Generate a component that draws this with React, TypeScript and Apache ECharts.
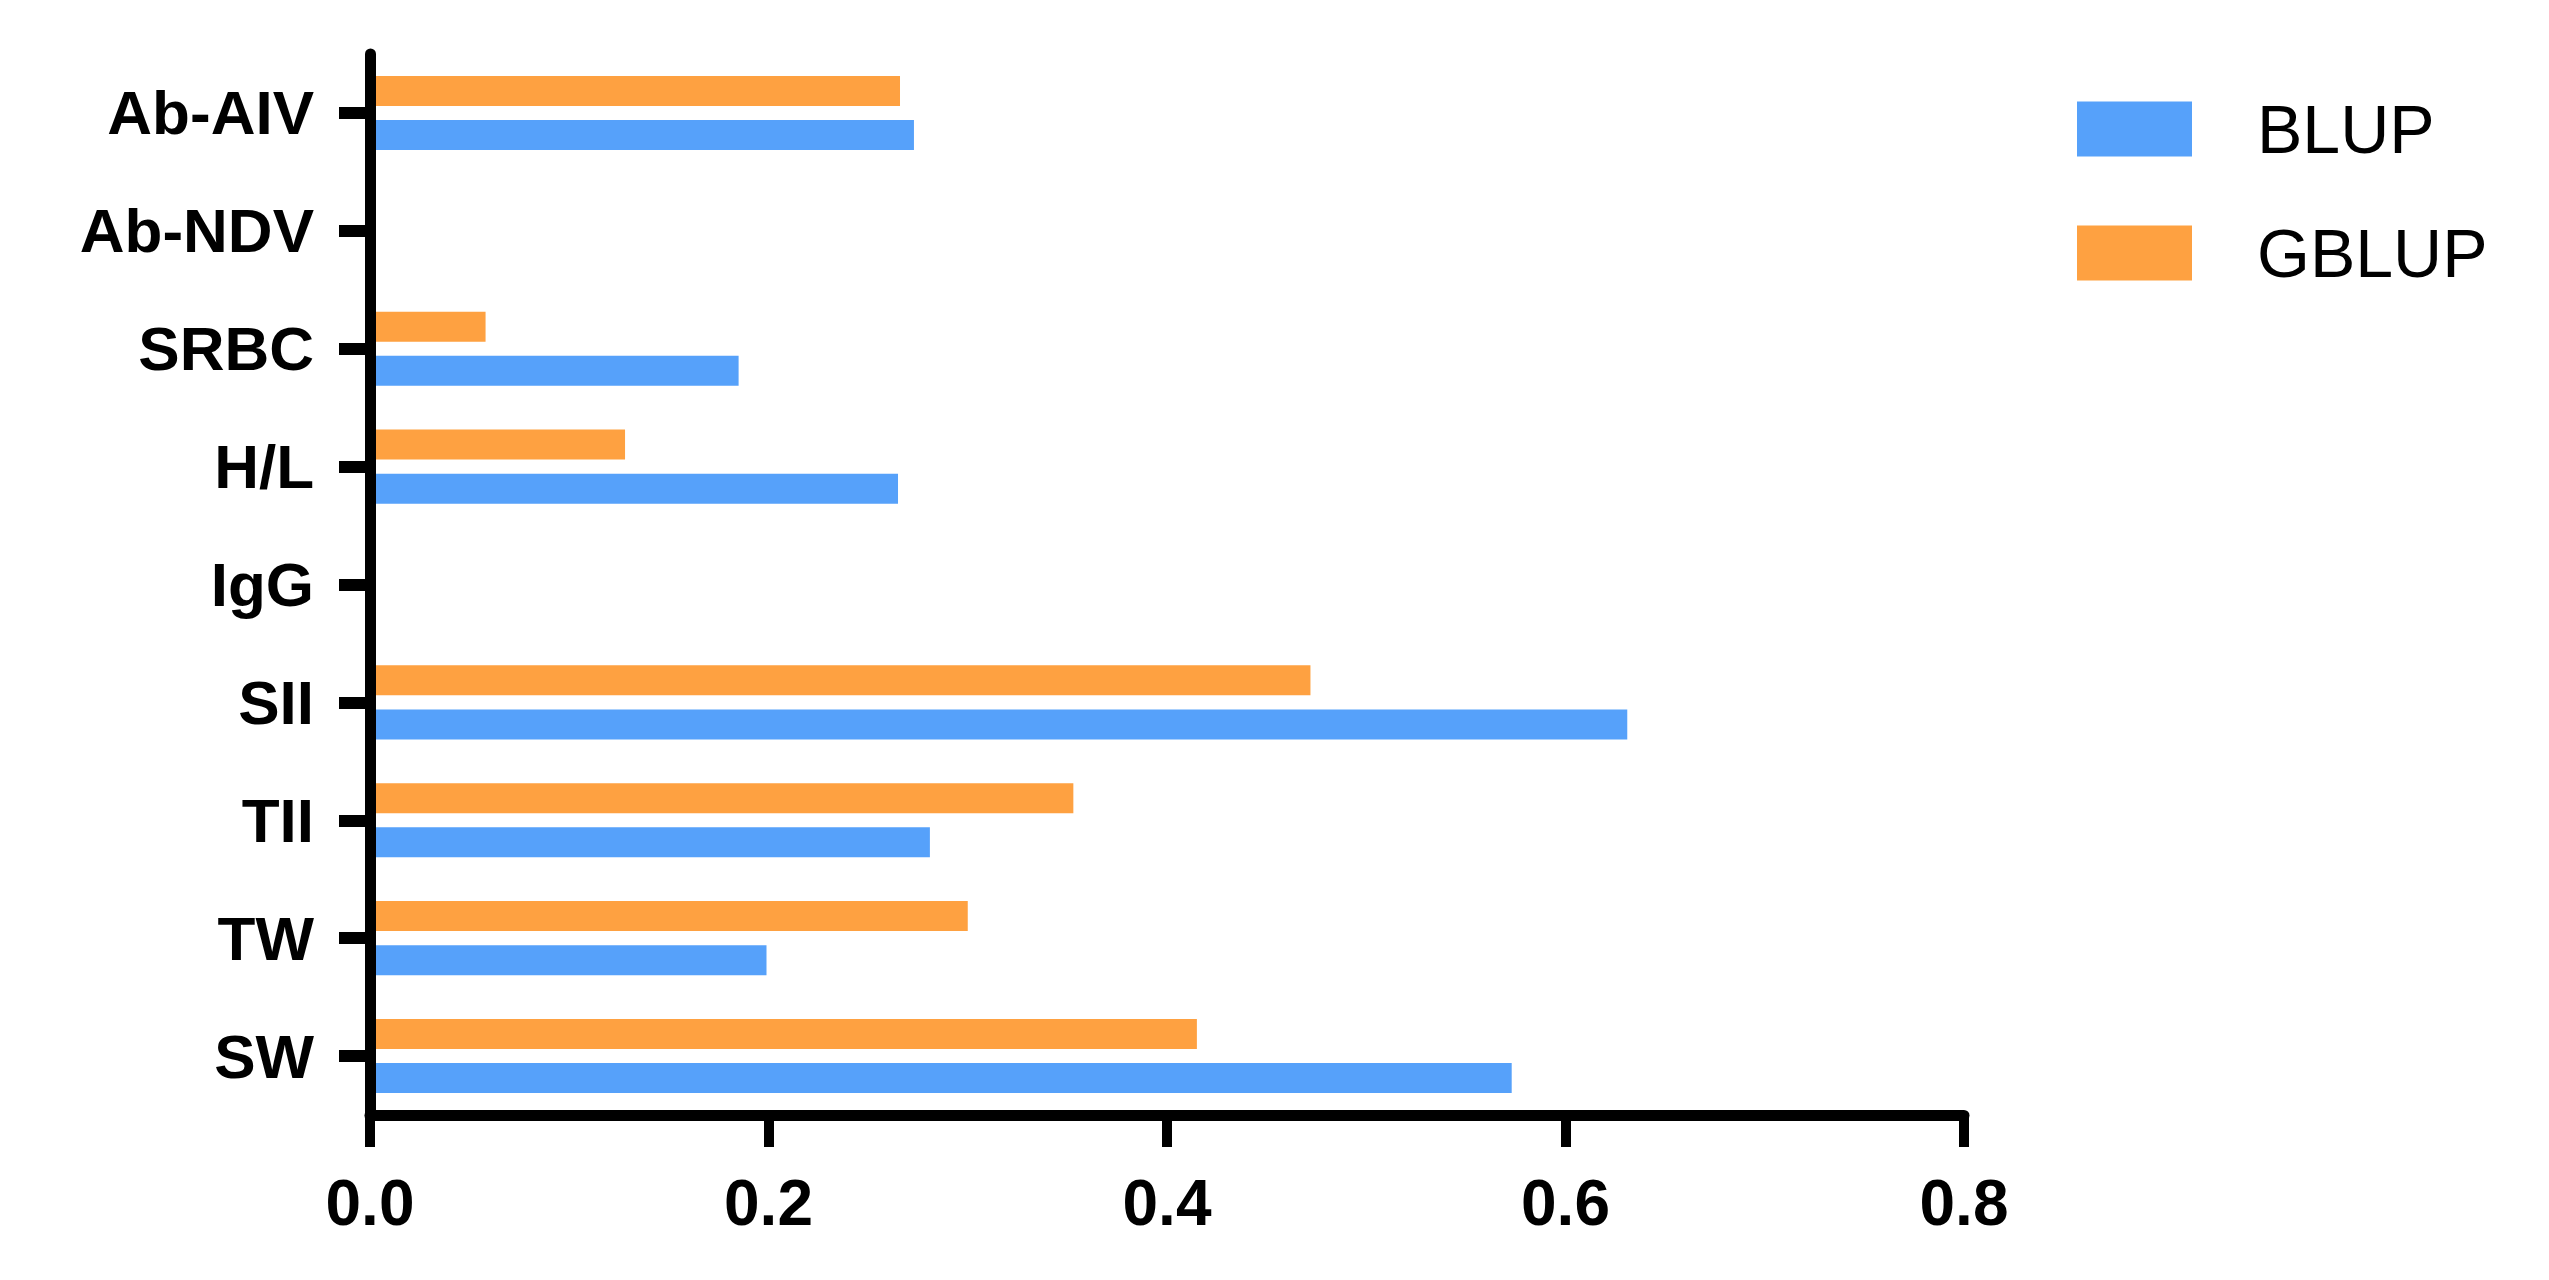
import React, { useEffect, useRef } from "react";
import * as echarts from "echarts";

const categories = ["SW", "TW", "TII", "SII", "IgG", "H/L", "SRBC", "Ab-NDV", "Ab-AIV"];
const blupValues: (number | null)[] = [0.573, 0.199, 0.281, 0.631, null, 0.265, 0.185, null, 0.273];
const gblupValues: (number | null)[] = [0.415, 0.300, 0.353, 0.472, null, 0.128, 0.058, null, 0.266];
const seriesNames = ["BLUP", "GBLUP"];
const xTicks = { min: 0, max: 0.8, interval: 0.2 };

const FONT = "'Liberation Sans', Arial, Helvetica, sans-serif";
const BLUE = "#56A1FA";
const ORANGE = "#FEA141";

export default function App() {
  const ref = useRef<HTMLDivElement>(null);
  useEffect(() => {
    document.body.style.margin = "0";
    if (!ref.current) return;
    const chart = echarts.init(ref.current, null, { renderer: "svg" });
    chart.setOption({
      animation: false,
      backgroundColor: "#ffffff",
      grid: { left: 370, right: 585, top: 54, bottom: 165, containLabel: false },
      legend: {
        orient: "vertical",
        left: 2072,
        top: 90,
        itemWidth: 115,
        itemHeight: 55,
        itemGap: 56,
        icon: "rect",
        data: seriesNames,
        textStyle: {
          fontFamily: FONT,
          fontSize: 68,
          color: "#000",
          padding: [0, 0, 0, 60],
        },
      },
      xAxis: {
        type: "value",
        min: xTicks.min,
        max: xTicks.max,
        interval: xTicks.interval,
        splitLine: { show: false },
        axisLine: { show: true, lineStyle: { color: "#000", width: 11 } },
        axisTick: { show: true, inside: false, length: 32, lineStyle: { color: "#000", width: 10 } },
        axisLabel: {
          formatter: (v: number) => v.toFixed(1),
          fontFamily: FONT,
          fontWeight: "bold",
          fontSize: 64,
          color: "#000",
          margin: 56,
        },
      },
      yAxis: {
        type: "category",
        data: categories,
        z: 10,
        axisLine: { show: true, lineStyle: { color: "#000", width: 11 } },
        axisTick: { show: true, alignWithLabel: true, length: 31, lineStyle: { color: "#000", width: 12 } },
        axisLabel: {
          fontFamily: FONT,
          fontWeight: "bold",
          fontSize: 62,
          color: "#000",
          margin: 56,
        },
      },
      series: [
        {
          name: seriesNames[1],
          type: "bar",
          data: gblupValues,
          barWidth: 30,
          barGap: "47%",
          itemStyle: { color: ORANGE },
        },
        {
          name: seriesNames[0],
          type: "bar",
          data: blupValues,
          barWidth: 30,
          barGap: "47%",
          itemStyle: { color: BLUE },
        },
      ],
    });
    return () => chart.dispose();
  }, []);
  return <div ref={ref} style={{ width: 2549, height: 1280 }} />;
}
